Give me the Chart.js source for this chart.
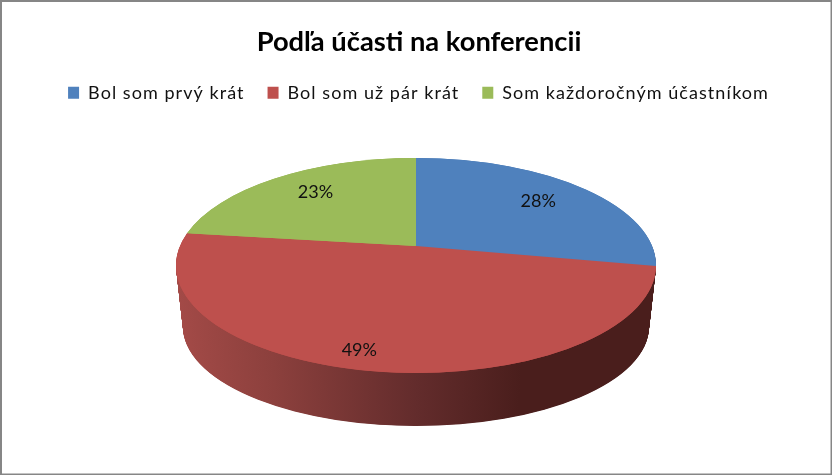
<!DOCTYPE html>
<html>
<head>
<meta charset="utf-8">
<style>
  html, body { margin: 0; padding: 0; background: #fff; }
  #wrap { width: 832px; height: 475px; }
</style>
<script src="https://cdn.jsdelivr.net/npm/chart.js@4"></script>
</head>
<body>
<div id="wrap"><canvas id="pie" width="832" height="475"></canvas></div>
<script>
const categories = ['Bol som prvý krát', 'Bol som už pár krát', 'Som každoročným účastníkom'];
const values = [28, 49, 23];
const sliceColors = ['#4F81BD', '#BE504D', '#9BBB59'];
const titleText = 'Podľa účasti na konferencii';

// look of the 3d pie
const center = { x: 416, y: 265.5 };
const radiusX = 240, radiusY = 107.5;
const bottom = { y: 327, radiusX: 233, radiusY: 99 };
const apexY = 246;
const perspective = 0.832;
const labelNudge = [[-14, -4], [-27, 0], [13, -4]];
const legendSpacing = '1.05px';

function warp(angle) {
  // the near side of the disc looks bigger than the far side
  const half = (angle + Math.PI / 2) / 2;
  return 2 * Math.atan2(perspective * Math.sin(half), Math.cos(half)) - Math.PI / 2;
}

function squash(ctx, arc, cy, rx, ry) {
  ctx.translate(center.x, cy);
  ctx.scale(rx / arc.outerRadius, ry / arc.outerRadius);
  ctx.translate(-arc.x, -arc.y);
}

// draws a box a little to the right, with its own letter spacing
function shiftBox(chart, box, dx, spacing) {
  const draw = box.draw;
  box.draw = function () {
    chart.ctx.save();
    chart.ctx.letterSpacing = spacing;
    chart.ctx.translate(dx, 0);
    draw.apply(this, arguments);
    chart.ctx.restore();
    chart.ctx.letterSpacing = '0px';
  };
}

const pie3d = {
  id: 'pie3d',
  beforeLayout(chart) {
    chart.ctx.letterSpacing = legendSpacing;
    if (!chart.legend.spaced) {
      shiftBox(chart, chart.legend, 2.5, legendSpacing);
      shiftBox(chart, chart.titleBlock, 3, '0px');
      chart.legend.spaced = true;
    }
  },
  afterLayout(chart) {
    chart.ctx.letterSpacing = '0px';
  },
  afterDatasetsUpdate(chart) {
    chart.getDatasetMeta(0).data.forEach(arc => {
      arc.startAngle = warp(arc.startAngle);
      arc.endAngle = warp(arc.endAngle);
      arc.circumference = arc.endAngle - arc.startAngle;
    });
  },
  beforeDatasetsDraw(chart) {
    const ctx = chart.ctx;
    const arcs = chart.getDatasetMeta(0).data;
    const wall = ctx.createLinearGradient(176, 0, 656, 0);
    wall.addColorStop(0, '#A34A47');
    wall.addColorStop(0.2, '#8C403D');
    wall.addColorStop(0.5, '#632C2C');
    wall.addColorStop(0.72, '#4A1E1C');
    wall.addColorStop(1, '#4A1E1C');
    const steps = 124;
    for (let i = steps; i > 0; i--) {
      const t = i / steps;
      ctx.save();
      squash(ctx, arcs[0], center.y + (bottom.y - center.y) * t,
        radiusX + (bottom.radiusX - radiusX) * t,
        radiusY + (bottom.radiusY - radiusY) * t);
      arcs.forEach(arc => {
        const opts = arc.options;
        arc.options = Object.assign({}, opts, { backgroundColor: wall });
        arc.draw(ctx);
        arc.options = opts;
      });
      ctx.restore();
    }
    ctx.save();
    squash(ctx, arcs[0], center.y, radiusX, radiusY);
  },
  afterDatasetsDraw(chart) {
    const ctx = chart.ctx;
    ctx.restore();
    const arcs = chart.getDatasetMeta(0).data;
    // slices meet above the middle of the ellipse, arcs keep their own angles
    arcs.forEach(arc => {
      ctx.beginPath();
      ctx.moveTo(center.x, apexY);
      ctx.ellipse(center.x, center.y, radiusX, radiusY, 0, arc.startAngle, arc.endAngle);
      ctx.closePath();
      ctx.fillStyle = arc.options.backgroundColor;
      ctx.fill();
    });
    ctx.save();
    ctx.font = '18px Lato';
    ctx.fillStyle = '#111';
    ctx.textAlign = 'center';
    ctx.textBaseline = 'middle';
    arcs.forEach((arc, i) => {
      const mid = (arc.startAngle + arc.endAngle) / 2;
      const x = center.x + Math.cos(mid) * radiusX * 0.8 + labelNudge[i][0];
      const y = center.y + Math.sin(mid) * radiusY * 0.8 + labelNudge[i][1];
      ctx.fillText(values[i] + '%', x, y);
    });
    ctx.restore();
    // chart frame
    ctx.save();
    ctx.strokeStyle = '#868686';
    ctx.lineWidth = 2;
    ctx.strokeRect(1, 1, 830.5, 473.5);
    ctx.restore();
  }
};

new Chart(document.getElementById('pie'), {
  type: 'pie',
  data: {
    labels: categories,
    datasets: [{
      data: values,
      backgroundColor: sliceColors,
      borderWidth: 0,
      radius: 240,
      clip: false
    }]
  },
  options: {
    responsive: false,
    animation: false,
    events: [],
    radius: 240,
    plugins: {
      title: {
        display: true,
        text: titleText,
        color: '#000',
        font: { family: 'Lato', size: 27.3, weight: 'bold' },
        padding: { top: 26, bottom: 2 }
      },
      legend: {
        display: true,
        position: 'top',
        labels: {
          color: '#111',
          font: { family: 'Lato', size: 18 },
          boxWidth: 11,
          boxHeight: 12,
          padding: 23
        }
      },
      tooltip: { enabled: false }
    }
  },
  plugins: [pie3d]
});
</script>
</body>
</html>
